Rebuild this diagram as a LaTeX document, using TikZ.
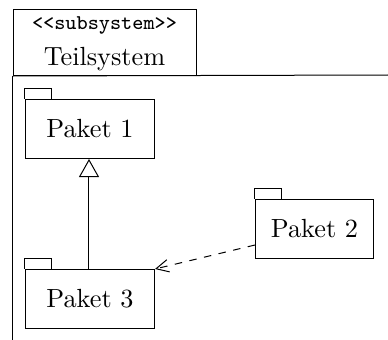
\documentclass[tikz,border=0pt]{standalone}
\usetikzlibrary{arrows.meta}
\begin{document}
\begin{tikzpicture}[x=0.4pt,y=-0.4pt,
  pkg/.style={draw,rectangle,minimum width=51.6pt,minimum height=23.6pt,inner sep=0pt,font=\fontsize{10.5}{12}\selectfont},
  inherit/.style={-{Triangle[open,length=7.2pt,width=8pt]}},
  dep/.style={dashed,-{Straight Barb[length=5pt,width=5pt]}}]
\useasboundingbox (0,0) rectangle (388,340);
% subsystem frame
\node[draw,rectangle,minimum width=73.2pt,minimum height=26.4pt,inner sep=0pt,anchor=north west] (head) at (13,9) {};
\node[inner sep=0pt,font=\ttfamily\fontsize{8.4}{10}\selectfont] (stereo) at (104.5,25) {<<subsystem>>};
\node[inner sep=0pt,font=\fontsize{10.5}{12}\selectfont,anchor=base] (title) at (104.5,66) {Teilsystem};
\coordinate (hr) at (388,75);
\coordinate (vb) at (13,340);
\draw (head.south west) -- (hr);
\draw (head.south west) -- (vb);
% packages
\node[pkg,anchor=north west] (p1) at (25,99) {Paket 1};
\node[pkg,anchor=north west] (p3) at (25,269) {Paket 3};
\node[pkg,anchor=north west,minimum width=47.2pt] (p2) at (255,199) {Paket 2};
\foreach \p in {p1,p2,p3}{
  \draw (\p.north west) -- ++(0,-10) -- ++(27,0) -- ++(0,10);
}
% connectors
\draw[inherit] (p3.north -| 89,0) -- (p1.south -| 89,0);
\draw[dep] ([yshift=5.6pt]p2.south west) -- (p3.north east);
\end{tikzpicture}
\end{document}
